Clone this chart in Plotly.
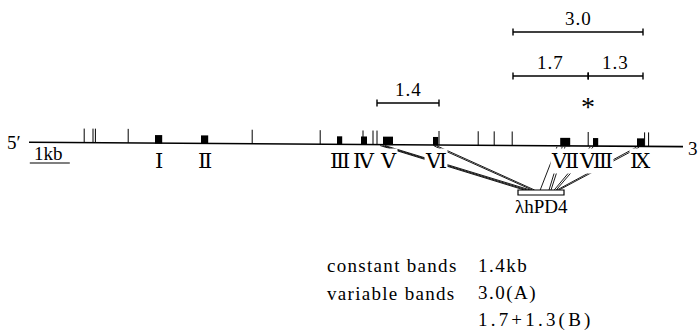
import plotly.graph_objects as go

# ---------------- data (positions along the gene in kb) ----------------
gene_start_kb = 0.0
gene_end_kb = 16.35

site_kb = [1.38, 1.60, 1.66, 2.48, 5.58, 7.28, 8.35, 8.60, 8.70, 10.25,
           11.23, 11.63, 12.08, 13.98, 15.39, 15.49]

exon_names = ["Ⅰ", "Ⅱ", "Ⅲ", "Ⅳ", "Ⅴ", "Ⅵ", "Ⅶ", "Ⅷ", "Ⅸ"]
exon_start_kb = [3.15, 4.30, 7.70, 8.30, 8.85, 10.10, 13.28, 14.10, 15.20]
exon_end_kb = [3.33, 4.48, 7.83, 8.45, 9.10, 10.23, 13.53, 14.23, 15.38]

band_labels = ["3.0", "1.7", "1.3", "1.4"]
band_start_kb = [12.10, 12.10, 13.98, 8.70]
band_end_kb = [15.35, 13.98, 15.35, 10.25]
band_row = [0, 1, 1, 2]

variable_site_kb = 13.98

clone_name = "λhPD4"
clone_start_kb = 12.225
clone_end_kb = 13.375

# lines from exons (on gene) to clone box
conn_from_kb = [8.78, 8.84, 8.90, 10.13, 10.20, 13.20, 13.33, 13.40,
                14.03, 14.10, 15.18, 15.25]
conn_to_kb = [12.38, 12.45, 12.53, 12.58, 12.64, 12.78, 13.00, 13.05,
              13.13, 13.18, 13.20, 13.25]

legend_names = ["constant bands", "variable bands", ""]
legend_values = ["1.4kb", "3.0(A)", "1.7+1.3(B)"]

# ---------------- layout helpers ----------------
PX0 = 29.0
PXKB = 40.0
W, H = 700, 331
FONT = "Liberation Serif, DejaVu Serif, Noto Sans CJK JP, serif"


def gene_y(kb):
    return 142.2 + 0.272 * kb


def spaced(txt):
    ls = 3.2 if "+" in txt else 1.5
    return '<span style="letter-spacing:%spx">%s</span>' % (ls, txt)


fig = go.Figure()
shapes = []
ann = []

# main gene line
fig.add_trace(go.Scatter(x=[gene_start_kb, gene_end_kb],
                         y=[gene_y(gene_start_kb), gene_y(gene_end_kb)],
                         mode="lines", line=dict(color="black", width=1.6),
                         hoverinfo="skip", showlegend=False))

# restriction sites
xs, ys = [], []
for s in site_kb:
    xs += [s, s, None]
    ys += [gene_y(s) - 14, gene_y(s), None]
fig.add_trace(go.Scatter(x=xs, y=ys, mode="lines",
                         line=dict(color="black", width=1),
                         hoverinfo="skip", showlegend=False))

# connection lines
xs, ys = [], []
for a, b in zip(conn_from_kb, conn_to_kb):
    xs += [a, b, None]
    ys += [gene_y(a) + 1, 190, None]
fig.add_trace(go.Scatter(x=xs, y=ys, mode="lines",
                         line=dict(color="black", width=0.9),
                         hoverinfo="skip", showlegend=False))

# exons
for n, a, b in zip(exon_names, exon_start_kb, exon_end_kb):
    m = (a + b) / 2
    shapes.append(dict(type="rect", xref="x", yref="y", x0=a, x1=b,
                       y0=gene_y(m) - 8, y1=gene_y(m) + 0.5,
                       fillcolor="black", line=dict(width=0)))

# clone box
shapes.append(dict(type="rect", xref="x", yref="y", x0=clone_start_kb,
                   x1=clone_end_kb, y0=190, y1=195, fillcolor="white",
                   line=dict(color="black", width=1.2)))

# band bars
row_y = [32, 76, 103]
xs, ys = [], []
for lab, a, b, r in zip(band_labels, band_start_kb, band_end_kb, band_row):
    y = row_y[r]
    xs += [a, b, None, a, a, None, b, b, None]
    ys += [y, y, None, y - 3.5, y + 3.5, None, y - 3.5, y + 3.5, None]
    ann.append(dict(x=(a + b) / 2, y=y - 14, text=lab))
fig.add_trace(go.Scatter(x=xs, y=ys, mode="lines",
                         line=dict(color="black", width=1.4),
                         hoverinfo="skip", showlegend=False))

for a in ann:
    a.update(xref="x", yref="y", showarrow=False,
             text='<span style="letter-spacing:1px">%s</span>' % a["text"],
             font=dict(family=FONT, size=19, color="black"))

# asterisk
ann.append(dict(x=variable_site_kb, y=106, xref="x", yref="y", text="*",
                showarrow=False,
                font=dict(family=FONT, size=28, color="black")))

# exon labels
for n, a, b in zip(exon_names, exon_start_kb, exon_end_kb):
    ann.append(dict(x=(a + b) / 2, y=161, xref="x", yref="y", text=n,
                    showarrow=False, bgcolor="white", borderpad=0,
                    font=dict(family=FONT, size=21, color="black")))

# 5' and 3'
ann.append(dict(x=(14 - PX0) / PXKB, y=142, xref="x", yref="y", text="5′",
                showarrow=False, font=dict(family=FONT, size=19, color="black")))
ann.append(dict(x=(693 - PX0) / PXKB, y=148, xref="x", yref="y", text="3",
                showarrow=False, font=dict(family=FONT, size=19, color="black")))

# scale bar
ann.append(dict(x=0.48, y=153, xref="x", yref="y", text="1kb",
                showarrow=False, font=dict(family=FONT, size=19, color="black")))
fig.add_trace(go.Scatter(x=[0.02, 1.02], y=[163, 163], mode="lines",
                         line=dict(color="black", width=1.2),
                         hoverinfo="skip", showlegend=False))

# clone label
ann.append(dict(x=(clone_start_kb + clone_end_kb) / 2, y=206, xref="x",
                yref="y", text=clone_name, showarrow=False,
                font=dict(family=FONT, size=19, color="black")))

# legend text
leg_y = [265, 293, 320]
for nm, val, y in zip(legend_names, legend_values, leg_y):
    if nm:
        ann.append(dict(x=(325 - PX0) / PXKB, y=y, xref="x", yref="y",
                        xanchor="left",
                        text='<span style="letter-spacing:1.3px">%s</span>' % nm,
                        showarrow=False,
                        font=dict(family=FONT, size=19, color="black")))
    ann.append(dict(x=(476 - PX0) / PXKB, y=y, xref="x", yref="y",
                    xanchor="left", text=spaced(val), showarrow=False,
                    font=dict(family=FONT, size=19, color="black")))

fig.update_layout(
    width=W, height=H, margin=dict(l=0, r=0, t=0, b=0),
    paper_bgcolor="white", plot_bgcolor="white",
    xaxis=dict(range=[-PX0 / PXKB, (W - PX0) / PXKB], visible=False,
               fixedrange=True),
    yaxis=dict(range=[H, 0], visible=False, fixedrange=True),
    shapes=shapes, annotations=ann, showlegend=False,
)

fig.write_html("out.html", config={"displayModeBar": False},
               post_script="document.body.style.margin='0';"
                           "document.body.style.overflow='hidden';")
